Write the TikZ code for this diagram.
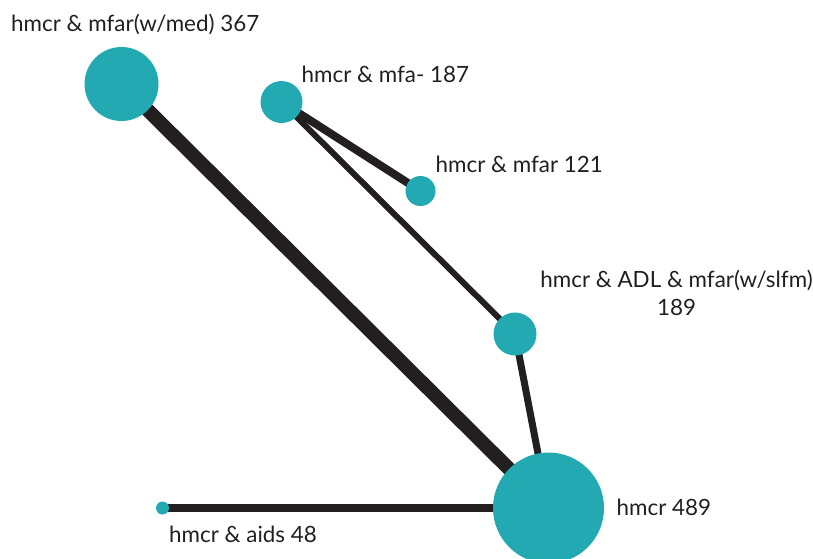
\documentclass[tikz,border=0pt]{standalone}
\usepackage{fontspec}
\setmainfont{Lato}
\usetikzlibrary{positioning,backgrounds}
\definecolor{netteal}{HTML}{23A9B1}
\definecolor{netdark}{HTML}{231F20}

\begin{document}
\begin{tikzpicture}[
    x=1pt, y=-1pt,
    vert/.style={circle, fill=netteal, inner sep=0pt, minimum size=2*#1},
    lbl/.style={font=\fontsize{22.4}{27.6}\selectfont, text=netdark, inner sep=0pt},
    edge/.style={draw=netdark, line width=#1}
  ]
    \clip (0,0) rectangle (813,558);

    % Nodes
    \node[vert=37pt] (med) at (121.5,84) {};
    \node[vert=21pt] (mfa) at (281.5,102) {};
    \node[vert=15pt] (mfar) at (420.5,191) {};
    \node[vert=21.5pt] (adl) at (515,334) {};
    \node[vert=55.5pt] (hmcr) at (548.5,508) {};
    \node[vert=6.5pt] (aids) at (162.5,508) {};

    % Labels
    \node[lbl, anchor=base west] (med-l) at (11,31.5) {hmcr \& mfar(w/med) 367};
    \node[lbl, anchor=base west] (mfa-l) at (301.5,82.5) {hmcr \& mfa- 187};
    \node[lbl, anchor=base west] (mfar-l) at (435.5,172.5) {hmcr \& mfar 121};
    \node[lbl, align=center, anchor=base] (adl-l) at (676.5,315.5) {hmcr \& ADL \& mfar(w/slfm)\\189};
    \node[lbl, anchor=base west] (hmcr-l) at (616.5,515.5) {hmcr 489};
    \node[lbl, anchor=base west] (aids-l) at (169,542.5) {hmcr \& aids 48};

    % Edges
    \begin{scope}[on background layer]
      \draw[edge=14pt] (med.center) -- (hmcr.center);
      \draw[edge=8pt] (mfa.center) -- (mfar.center);
      \draw[edge=6pt] (mfa.center) -- (adl.center);
      \draw[edge=7pt] (adl.center) -- (hmcr.center);
      \draw[edge=8pt] (aids.center) -- (hmcr.center);
    \end{scope}
\end{tikzpicture}
\end{document}
